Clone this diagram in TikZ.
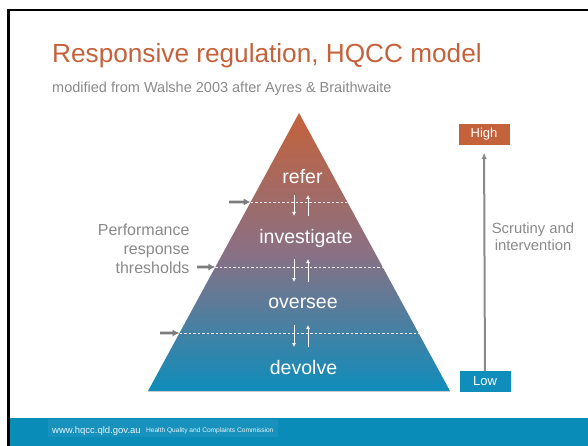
\documentclass[tikz,border=0pt]{standalone}
\usepackage{fontspec}
\setmainfont{Liberation Sans}
\usetikzlibrary{arrows.meta,calc}
\definecolor{hqorange}{HTML}{C4623B}
\definecolor{hqblue}{HTML}{0F8DBB}
\definecolor{hqgray}{HTML}{8A8A8A}
\definecolor{hqfoot}{HTML}{0A8CB8}
\tikzset{
  level/.style={text=white, font=\fontsize{19.5}{22}\selectfont},
  side/.style={text=hqgray, font=\fontsize{16}{19}\selectfont, align=right},
  scalebox/.style={text=white, font=\fontsize{13}{14}\selectfont, minimum width=51, minimum height=21, inner sep=0},
  thresh/.style={white!85!gray, dash pattern=on 2.5pt off 2pt, line width=0.8pt},
  pointer/.style={-{Latex[length=7pt,width=7pt]}, hqgray!90!black, line width=2.6pt},
  move/.style={-{Latex[length=4pt,width=4pt]}, white, line width=0.9pt}
}
\newcommand{\updown}[3]{
  \coordinate (d#1) at (294,#2);
  \coordinate (e#1) at (294,#3);
  \coordinate (u#1) at (308,#3);
  \coordinate (v#1) at (308,#2);
  \draw[move] (d#1)--(e#1);
  \draw[move] (u#1)--(v#1);
}
\begin{document}
\begin{tikzpicture}[x=1pt,y=-1pt]
  \useasboundingbox (0,0) rectangle (588,446);

  % frame and footer
  % ================
  \fill[hqfoot] (10,418) rectangle (588,446);
  \fill[white, opacity=0.06] (48,419) rectangle (278,437);
  \draw[black, line width=2.5pt] (8.7,446) -- (8.7,10) -- (588,10);
  \node[anchor=west, text=white!90!hqfoot, font=\fontsize{9.5}{10}\selectfont, inner sep=0] (url) at (52,431) {www.hqcc.qld.gov.au};
  \node[anchor=west, text=white!90!hqfoot, font=\fontsize{6.6}{7}\selectfont, inner sep=0] (org) at ([xshift=5]url.east) {Health Quality and Complaints Commission};

  % title
  % =====
  \node[anchor=base west, text=hqorange, font=\fontsize{26.2}{30}\selectfont, inner sep=0] (title) at (52,63) {Responsive regulation, HQCC model};
  \node[anchor=base west, text=hqgray, font=\fontsize{14.5}{16}\selectfont, inner sep=0] (sub) at (52,93) {modified from Walshe 2003 after Ayres \& Braithwaite};

  % pyramid
  % =======
  \coordinate (top) at (299,113);
  \coordinate (bl) at (148,391);
  \coordinate (br) at (450,391);
  \shade[top color=hqorange, bottom color=hqblue, middle color={rgb,255:red,138;green,112;blue,132}] (top) -- (bl) -- (br) -- cycle;
  \draw[gray!40, line width=0.6pt] (bl) -- (br);

  % thresholds
  % ----------
  \foreach \n/\y/\s in {1/202/229, 2/267/197, 3/333/160}{
    \coordinate (tl\n) at ($(top)!{(\y-113)/278}!(bl)$);
    \coordinate (tr\n) at ($(top)!{(\y-113)/278}!(br)$);
    \coordinate (ts\n) at (\s,\y);
    \draw[thresh] (tl\n) -- (tr\n);
    \draw[pointer] (ts\n) -- (tl\n);
  }

  \node[level] (refer) at (302.5,177) {refer};
  \node[level] (investigate) at (306,238) {investigate};
  \node[level] (oversee) at (303,303) {oversee};
  \node[level] (devolve) at (303.5,368) {devolve};

  \updown{1}{195}{216}
  \updown{2}{259}{282}
  \updown{3}{325}{347}

  \node[side, anchor=east] (perf) at (193,249) {Performance\\response\\thresholds};

  % scale
  % =====
  \node[scalebox, fill=hqorange] (high) at (484,134.5) {High};
  \node[scalebox, fill=hqblue] (low) at (485,381.5) {Low};
  \draw[-{Latex[length=7pt,width=5.5pt]}, hqgray, line width=2pt, shorten >=7pt] (low) -- (high);
  \node[side, align=center, font=\fontsize{14.8}{17}\selectfont] (scrut) at (533,237) {Scrutiny and\\intervention};
\end{tikzpicture}
\end{document}
